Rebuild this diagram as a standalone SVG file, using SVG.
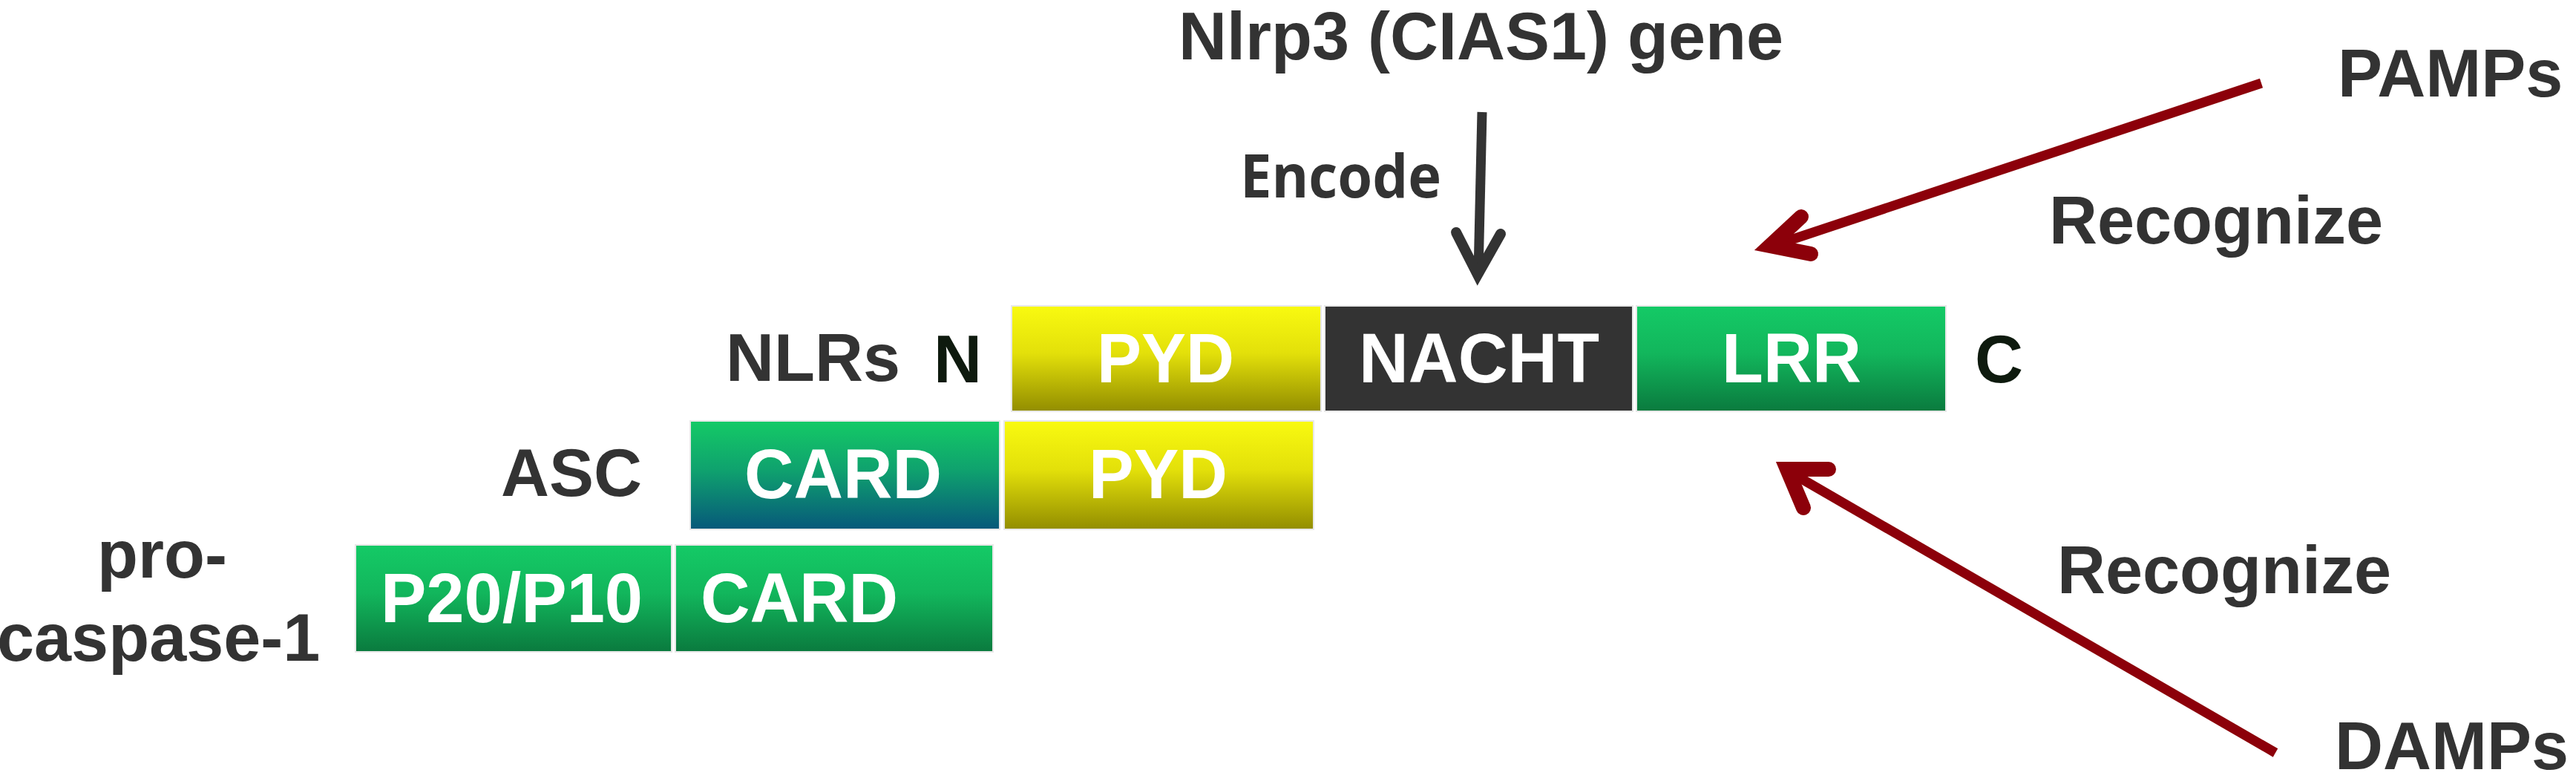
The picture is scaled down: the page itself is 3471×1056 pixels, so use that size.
<svg xmlns="http://www.w3.org/2000/svg" width="3471" height="1056" viewBox="0 0 3471 1056">
  <defs>
    <linearGradient id="gYellow" x1="0" y1="0" x2="0" y2="1">
      <stop offset="0" stop-color="#f9fa10"/>
      <stop offset="0.45" stop-color="#e3e00a"/>
      <stop offset="1" stop-color="#928d00"/>
    </linearGradient>
    <linearGradient id="gGreen" x1="0" y1="0" x2="0" y2="1">
      <stop offset="0" stop-color="#14ca66"/>
      <stop offset="0.45" stop-color="#12b65c"/>
      <stop offset="1" stop-color="#0a7a3e"/>
    </linearGradient>
    <linearGradient id="gTeal" x1="0" y1="0" x2="0" y2="1">
      <stop offset="0" stop-color="#14ca66"/>
      <stop offset="0.45" stop-color="#0fa26e"/>
      <stop offset="1" stop-color="#07587a"/>
    </linearGradient>
  </defs>
  <style>
    .lbl { font-family: "Liberation Sans", Arial, sans-serif; font-weight: bold; font-size: 90px; fill: #333333; }
    .term { font-family: "Liberation Sans", Arial, sans-serif; font-weight: bold; font-size: 90px; fill: #0e1a0e; }
    .dom { font-family: "Liberation Sans", Arial, sans-serif; font-weight: bold; font-size: 95px; fill: #ffffff; }
    .enc { font-family: "Open Sans", "Noto Sans", sans-serif; font-weight: bold; font-size: 80px; fill: #333333; }
    .box { stroke: #e8e8e8; stroke-width: 2; }
    .red { fill: none; stroke: #8c000a; stroke-width: 13; }
    .redHead { fill: none; stroke: #8c000a; stroke-width: 20; stroke-linecap: round; stroke-linejoin: miter; stroke-miterlimit: 10; }
    .dark { fill: none; stroke: #333333; stroke-width: 13; }
    .darkHead { fill: none; stroke: #333333; stroke-width: 14; stroke-linecap: round; stroke-linejoin: miter; stroke-miterlimit: 10; }
  </style>

  <g id="title">
    <text class="lbl" x="1588" y="80">Nlrp3 (CIAS1) gene</text>
  </g>

  <g id="nlrs">
    <text class="lbl" x="978" y="513">NLRs</text>
    <text class="term" x="1258" y="515">N</text>
    <g id="nlrs-pyd">
      <rect class="box" x="1363" y="412" width="417" height="142" fill="url(#gYellow)"/>
      <text class="dom" x="1478" y="515" textLength="185" lengthAdjust="spacingAndGlyphs">PYD</text>
    </g>
    <g id="nlrs-nacht">
      <rect class="box" x="1785" y="412" width="415" height="142" fill="#333333"/>
      <text class="dom" x="1831" y="515" textLength="324" lengthAdjust="spacingAndGlyphs">NACHT</text>
    </g>
    <g id="nlrs-lrr">
      <rect class="box" x="2205" y="412" width="417" height="142" fill="url(#gGreen)"/>
      <text class="dom" x="2320" y="515" textLength="188" lengthAdjust="spacingAndGlyphs">LRR</text>
    </g>
    <text class="term" x="2661" y="515">C</text>
  </g>

  <g id="asc">
    <text class="lbl" x="675" y="668">ASC</text>
    <g id="asc-card">
      <rect class="box" x="930" y="567" width="417" height="146" fill="url(#gTeal)"/>
      <text class="dom" x="1003" y="671" textLength="266" lengthAdjust="spacingAndGlyphs">CARD</text>
    </g>
    <g id="asc-pyd">
      <rect class="box" x="1353" y="567" width="417" height="146" fill="url(#gYellow)"/>
      <text class="dom" x="1467" y="671" textLength="187" lengthAdjust="spacingAndGlyphs">PYD</text>
    </g>
  </g>

  <g id="procaspase">
    <text class="lbl" x="131" y="778">pro-</text>
    <text class="lbl" x="-4" y="890">caspase-1</text>
    <g id="pc-p20p10">
      <rect class="box" x="479" y="734" width="426" height="144" fill="url(#gGreen)"/>
      <text class="dom" x="513" y="838" textLength="353" lengthAdjust="spacingAndGlyphs">P20/P10</text>
    </g>
    <g id="pc-card">
      <rect class="box" x="910" y="734" width="428" height="144" fill="url(#gGreen)"/>
      <text class="dom" x="944" y="838" textLength="266" lengthAdjust="spacingAndGlyphs">CARD</text>
    </g>
  </g>

  <g id="pamps">
    <text class="lbl" x="3150" y="130">PAMPs</text>
  </g>
  <g id="damps">
    <text class="lbl" x="3146" y="1036">DAMPs</text>
  </g>

  <g id="connectors">
    <g id="encode-arrow">
      <line class="dark" x1="1997" y1="151" x2="1992" y2="368"/>
      <path class="darkHead" d="M1962,313 L1991,370 L2022,315"/>
      <text class="enc" x="1671" y="266" textLength="271" lengthAdjust="spacingAndGlyphs">Encode</text>
    </g>
    <g id="pamps-arrow">
      <line class="red" x1="3047" y1="112" x2="2392" y2="330"/>
      <path class="redHead" d="M2427,292 L2385,331 L2440,342"/>
      <text class="lbl" x="2761" y="328">Recognize</text>
    </g>
    <g id="damps-arrow">
      <line class="red" x1="3066" y1="1014" x2="2412" y2="636"/>
      <path class="redHead" d="M2464,632 L2408,632 L2430,684"/>
      <text class="lbl" x="2772" y="799">Recognize</text>
    </g>
  </g>
</svg>
